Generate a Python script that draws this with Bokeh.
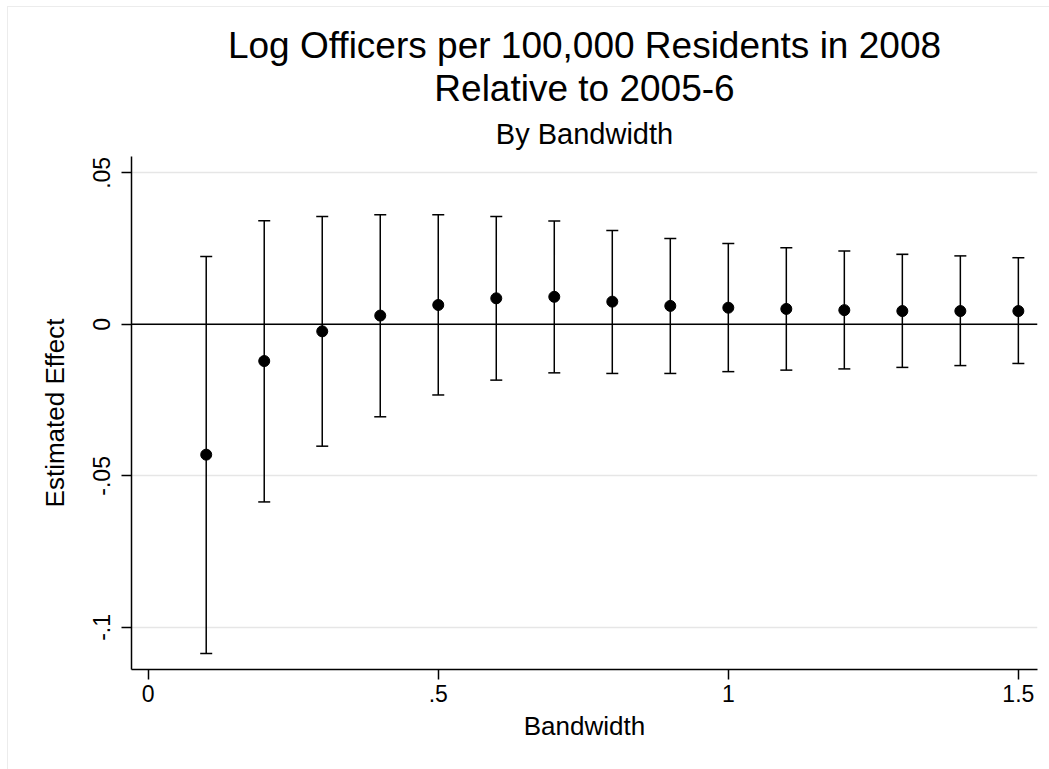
from bokeh.plotting import figure
from bokeh.models import ColumnDataSource, Whisker, TeeHead, Span, Title, FixedTicker, Range1d
from bokeh.embed import file_html
from bokeh.resources import INLINE

# ---- data ----
bandwidth = [0.1, 0.2, 0.3, 0.4, 0.5, 0.6, 0.7, 0.8, 0.9, 1.0, 1.1, 1.2, 1.3, 1.4, 1.5]
estimate = [-0.0430, -0.0121, -0.0023, 0.0029, 0.0064, 0.0086, 0.0091,
            0.0075, 0.0061, 0.0055, 0.0051, 0.0047, 0.0044, 0.0044, 0.0044]
ci_upper = [0.0224, 0.0342, 0.0356, 0.0362, 0.0362, 0.0356, 0.0341,
            0.0310, 0.0283, 0.0267, 0.0253, 0.0242, 0.0231, 0.0226, 0.0220]
ci_lower = [-0.1086, -0.0586, -0.0402, -0.0305, -0.0233, -0.0184, -0.0160,
            -0.0162, -0.0162, -0.0156, -0.0151, -0.0147, -0.0142, -0.0136, -0.0129]

x_ticks = [0, 0.5, 1, 1.5]
x_tick_labels = ["0", ".5", "1", "1.5"]
y_ticks = [-0.1, -0.05, 0, 0.05]
y_tick_labels = ["-.1", "-.05", "0", ".05"]

title_line1 = "Log Officers per 100,000 Residents in 2008"
title_line2 = "Relative to 2005-6"
subtitle = "By Bandwidth"
x_label = "Bandwidth"
y_label = "Estimated Effect"

FONT = "Liberation Sans"

src = ColumnDataSource(dict(x=bandwidth, y=estimate, upper=ci_upper, lower=ci_lower))

p = figure(width=1041, height=762,
           x_range=Range1d(-0.0288, 1.533), y_range=Range1d(-0.1139, 0.0554),
           output_backend="svg", toolbar_location=None, title=None,
           min_border_left=123, min_border_right=12, min_border_top=149, min_border_bottom=100)
p.margin = (7, 0, 0, 8)
p.background_fill_color = "white"
p.border_fill_color = "white"
p.outline_line_color = None
p.styles = {"outline": "1px solid #ececec"}

# titles (first added is closest to the frame)
p.add_layout(Title(text=subtitle, align="center", text_font=FONT, text_font_size="29px",
                   text_font_style="normal", text_color="black", standoff=14), "above")
p.add_layout(Title(text=title_line2, align="center", text_font=FONT, text_font_size="37px",
                   text_font_style="normal", text_color="black", standoff=0), "above")
p.add_layout(Title(text=title_line1, align="center", text_font=FONT, text_font_size="37px",
                   text_font_style="normal", text_color="black", standoff=0,
                   text_line_height=1.4), "above")

# axes
for ax in (p.xaxis[0], p.yaxis[0]):
    ax.axis_line_width = 1.5
    ax.axis_line_color = "black"
    ax.major_tick_line_width = 1.5
    ax.major_tick_line_color = "black"
    ax.major_tick_out = 10
    ax.major_tick_in = 0
    ax.minor_tick_line_color = None
    ax.major_label_text_font = FONT
    ax.major_label_text_font_size = "23px"
    ax.major_label_text_color = "black"
    ax.axis_label_text_font = FONT
    ax.axis_label_text_font_size = "26px"
    ax.axis_label_text_font_style = "normal"
    ax.axis_label_text_color = "black"

p.xaxis.ticker = FixedTicker(ticks=x_ticks)
p.xaxis.major_label_overrides = dict(zip(x_ticks, x_tick_labels))
p.xaxis.axis_label = x_label
p.xaxis.major_label_standoff = 5
p.xaxis.axis_label_standoff = 6

p.yaxis.ticker = FixedTicker(ticks=y_ticks)
p.yaxis.major_label_overrides = dict(zip(y_ticks, y_tick_labels))
p.yaxis.major_label_orientation = "vertical"
p.yaxis.axis_label = y_label
p.yaxis.major_label_standoff = 11
p.yaxis.axis_label_standoff = 21

p.xgrid.visible = False
p.ygrid.grid_line_color = "#e6e6e6"
p.ygrid.grid_line_width = 1.5

p.add_layout(Span(location=0, dimension="width", line_color="black", line_width=1.5))

p.add_layout(Whisker(base="x", upper="upper", lower="lower", source=src,
                     line_color="black", line_width=1.5,
                     upper_head=TeeHead(size=12, line_color="black", line_width=1.5),
                     lower_head=TeeHead(size=12, line_color="black", line_width=1.5)))
p.scatter("x", "y", source=src, size=11, color="black")

open("out.html", "w").write(file_html(p, INLINE))
